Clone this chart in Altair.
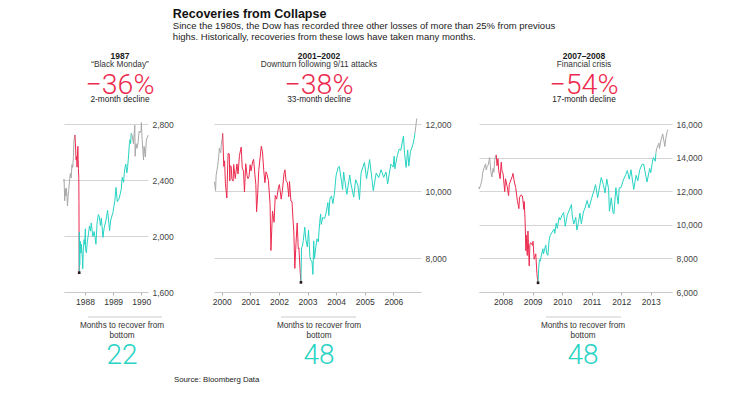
import altair as alt
import pandas as pd

FONT = "Liberation Sans"
BIG_FONT = "Roboto"
GRAY = "#a8a8a8"
RED = "#ec2a4e"
CYAN = "#27d3c3"
GRID = "#d4d4d4"
TEXT = "#1a1a1a"

# ---------------- text content ----------------
title_text = "Recoveries from Collapse"
subtitle_lines = [
    "Since the 1980s, the Dow has recorded three other losses of more than 25% from previous",
    "highs. Historically, recoveries from these lows have taken many months.",
]
header_years = ["1987", "2001\u20132002", "2007\u20132008"]
header_events = ["\u201cBlack Monday\u201d", "Downturn following 9/11 attacks", "Financial crisis"]
decline_pcts = ["\u221236%", "\u221238%", "\u221254%"]
decline_labels = ["2-month decline", "33-month decline", "17-month decline"]
recover_label = ["Months to recover from", "bottom"]
recover_months = ["22", "48", "48"]
source_text = "Source: Bloomberg Data"

# ---------------- panel 1: 1987 ----------------
p1_dates = [
    "1987-04-03", "1987-04-06", "1987-04-14", "1987-04-22", "1987-04-30", "1987-05-05",
    "1987-05-15", "1987-05-20", "1987-05-29", "1987-06-05", "1987-06-15", "1987-06-26",
    "1987-07-07", "1987-07-17", "1987-07-27", "1987-08-05", "1987-08-12", "1987-08-17",
    "1987-08-25", "1987-08-31", "1987-09-08", "1987-09-15", "1987-09-21", "1987-09-28",
    "1987-10-02", "1987-10-06", "1987-10-09", "1987-10-14", "1987-10-16", "1987-10-19",
    "1987-10-20", "1987-10-21", "1987-10-26", "1987-10-29", "1987-11-02", "1987-11-10",
    "1987-11-16", "1987-11-30", "1987-12-04", "1987-12-11", "1987-12-21", "1987-12-31",
    "1988-01-07", "1988-01-08", "1988-01-20", "1988-02-01", "1988-02-16", "1988-02-29",
    "1988-03-15", "1988-03-23", "1988-04-13", "1988-04-20", "1988-04-29", "1988-05-10",
    "1988-05-23", "1988-06-08", "1988-06-24", "1988-07-05", "1988-07-20", "1988-08-01",
    "1988-08-22", "1988-09-06", "1988-09-30", "1988-10-21", "1988-11-16", "1988-12-01",
    "1988-12-30", "1989-01-24", "1989-02-07", "1989-02-24", "1989-03-17", "1989-03-31",
    "1989-04-17", "1989-04-28", "1989-05-16", "1989-05-31", "1989-06-15", "1989-06-27",
    "1989-07-07", "1989-07-18", "1989-07-31", "1989-08-09", "1989-08-15", "1989-08-24",
    "1989-09-05", "1989-09-21", "1989-10-09", "1989-10-13", "1989-10-24", "1989-11-06",
    "1989-11-20", "1989-12-04", "1989-12-15", "1989-12-29", "1990-01-02", "1990-01-12",
    "1990-01-30", "1990-02-06", "1990-02-23", "1990-03-06", "1990-03-15", "1990-03-23",
    "1990-03-28",
]
p1_values = [
    2390, 2405, 2252, 2337, 2286, 2342,
    2272, 2215, 2291, 2325, 2392, 2446,
    2415, 2510, 2490, 2566, 2680, 2700,
    2722, 2663, 2545, 2568, 2492, 2601,
    2641, 2548, 2482, 2412, 2246, 1738,
    1841, 2027, 1793, 1938, 1963, 1878,
    1940, 1834, 1766, 1902, 1974, 1939,
    2051, 1911, 1880, 1958, 2015, 2072,
    2035, 2093, 1996, 2005, 2032, 1995,
    1941, 2102, 2153, 2140, 2075, 2128,
    1990, 2057, 2112, 2183, 2038, 2114,
    2169, 2256, 2347, 2245, 2263, 2294,
    2337, 2419, 2384, 2481, 2513, 2450,
    2487, 2557, 2661, 2689, 2660, 2734,
    2717, 2660, 2791, 2569, 2660, 2626,
    2665, 2748, 2739, 2753, 2810, 2689,
    2543, 2640, 2564, 2675, 2700, 2705,
    2720,
]
p1_events = ["1987-08-25", "1987-10-19", "1989-08-24"]  # peak, bottom, recovered

# ---------------- panel 2: 2000-2002 ----------------
p2_dates = [
    "1999-09-24", "1999-10-01", "1999-10-15", "1999-10-22", "1999-11-03", "1999-11-12",
    "1999-11-23", "1999-12-03", "1999-12-10", "1999-12-20", "1999-12-31", "2000-01-07",
    "2000-01-14", "2000-01-28", "2000-02-07", "2000-02-18", "2000-03-07", "2000-03-16",
    "2000-03-23", "2000-04-07", "2000-04-14", "2000-04-18", "2000-05-02", "2000-05-10",
    "2000-05-26", "2000-06-02", "2000-06-22", "2000-07-14", "2000-07-28", "2000-08-15",
    "2000-09-06", "2000-09-20", "2000-10-06", "2000-10-18", "2000-11-03", "2000-11-20",
    "2000-12-01", "2000-12-15", "2000-12-29", "2001-01-10", "2001-01-31", "2001-02-12",
    "2001-02-28", "2001-03-12", "2001-03-22", "2001-04-05", "2001-04-18", "2001-05-01",
    "2001-05-21", "2001-06-05", "2001-06-22", "2001-07-06", "2001-07-20", "2001-08-01",
    "2001-08-20", "2001-09-10", "2001-09-21", "2001-10-01", "2001-10-11", "2001-10-31",
    "2001-11-15", "2001-12-03", "2001-12-27", "2002-01-07", "2002-01-30", "2002-02-13",
    "2002-03-07", "2002-03-19", "2002-04-02", "2002-04-19", "2002-05-07", "2002-05-16",
    "2002-06-03", "2002-06-17", "2002-07-01", "2002-07-10", "2002-07-23", "2002-08-07",
    "2002-08-22", "2002-09-05", "2002-09-13", "2002-09-30", "2002-10-09", "2002-10-17",
    "2002-10-29", "2002-11-08", "2002-11-27", "2002-12-10", "2002-12-30", "2003-01-14",
    "2003-01-31", "2003-02-10", "2003-02-28", "2003-03-11", "2003-03-21", "2003-03-31",
    "2003-04-17", "2003-05-02", "2003-05-19", "2003-06-04", "2003-06-17", "2003-06-25",
    "2003-07-14", "2003-07-30", "2003-08-08", "2003-08-28", "2003-09-18", "2003-09-30",
    "2003-10-13", "2003-11-03", "2003-11-21", "2003-12-10", "2003-12-31", "2004-01-26",
    "2004-02-11", "2004-03-10", "2004-03-24", "2004-04-06", "2004-05-17", "2004-06-23",
    "2004-07-09", "2004-08-13", "2004-09-07", "2004-10-05", "2004-10-25", "2004-11-15",
    "2004-12-28", "2005-01-24", "2005-03-04", "2005-04-20", "2005-05-27", "2005-06-28",
    "2005-07-29", "2005-08-30", "2005-09-30", "2005-10-20", "2005-11-30", "2005-12-30",
    "2006-01-11", "2006-01-20", "2006-02-21", "2006-03-16", "2006-04-06", "2006-05-10",
    "2006-05-24", "2006-06-13", "2006-07-03", "2006-07-17", "2006-08-07", "2006-09-08",
    "2006-09-25", "2006-10-03", "2006-10-11", "2006-10-19", "2006-10-26",
]
p2_values = [
    10279, 10273, 10019, 10470, 10640, 10770,
    11008, 11286, 11225, 11145, 11497, 11522,
    11723, 10739, 10905, 10219, 9796, 10630,
    11119, 11111, 10306, 10767, 10731, 10367,
    10300, 10794, 10376, 10812, 10512, 11067,
    11310, 10687, 10596, 9975, 10817, 10462,
    10374, 10434, 10787, 10604, 10887, 10946,
    10495, 10208, 9389, 9918, 10615, 10898,
    11337, 11175, 10604, 10252, 10576, 10510,
    10320, 9606, 8236, 8837, 9410, 9075,
    9872, 9763, 10131, 10197, 9763, 9990,
    10525, 10635, 10313, 10257, 9836, 10289,
    9709, 9688, 9109, 8813, 7702, 8456,
    9053, 8284, 8312, 7592, 7286, 8322,
    8368, 8537, 8931, 8574, 8342, 8842,
    8053, 7960, 7891, 7524, 8521, 7992,
    8337, 8582, 8492, 9038, 9323, 9011,
    9218, 9200, 9191, 9374, 9660, 9275,
    9764, 9858, 9629, 9921, 10454, 10702,
    10737, 10296, 10048, 10570, 9906, 10479,
    10214, 9825, 10342, 10177, 9750, 10550,
    10854, 10368, 10941, 10012, 10542, 10405,
    10641, 10412, 10568, 10215, 10806, 10718,
    11043, 10667, 11069, 11254, 11216, 11642,
    11117, 10707, 11229, 10747, 11173, 11393,
    11575, 11727, 11852, 12011, 12163,
]
p2_events = ["2000-01-14", "2002-10-09", "2006-10-03"]

# ---------------- panel 3: 2007-2008 ----------------
p3_dates = [
    "2007-03-08", "2007-03-14", "2007-03-30", "2007-04-13", "2007-04-25", "2007-05-09",
    "2007-05-31", "2007-06-07", "2007-06-20", "2007-07-03", "2007-07-19", "2007-08-03",
    "2007-08-16", "2007-08-31", "2007-09-10", "2007-09-19", "2007-10-01", "2007-10-09",
    "2007-10-19", "2007-10-31", "2007-11-08", "2007-11-26", "2007-12-10", "2007-12-19",
    "2008-01-02", "2008-01-22", "2008-02-01", "2008-02-21", "2008-03-10", "2008-03-18",
    "2008-04-02", "2008-04-25", "2008-05-02", "2008-05-23", "2008-06-06", "2008-06-26",
    "2008-07-15", "2008-07-23", "2008-08-11", "2008-08-28", "2008-09-15", "2008-09-19",
    "2008-09-29", "2008-10-10", "2008-10-13", "2008-10-27", "2008-11-04", "2008-11-20",
    "2008-11-28", "2008-12-08", "2008-12-31", "2009-01-06", "2009-01-20", "2009-02-09",
    "2009-02-23", "2009-03-02", "2009-03-09", "2009-03-17", "2009-03-26", "2009-04-08",
    "2009-04-17", "2009-05-08", "2009-05-15", "2009-06-12", "2009-06-23", "2009-07-08",
    "2009-07-24", "2009-08-07", "2009-08-28", "2009-09-23", "2009-10-02", "2009-10-19",
    "2009-11-02", "2009-11-24", "2009-12-08", "2009-12-28", "2010-01-19", "2010-02-08",
    "2010-03-05", "2010-04-26", "2010-05-06", "2010-05-25", "2010-06-18", "2010-07-02",
    "2010-07-21", "2010-08-09", "2010-08-26", "2010-09-21", "2010-10-15", "2010-11-05",
    "2010-11-30", "2010-12-31", "2011-01-26", "2011-02-18", "2011-03-16", "2011-04-29",
    "2011-05-25", "2011-06-15", "2011-07-07", "2011-07-29", "2011-08-08", "2011-08-31",
    "2011-09-22", "2011-10-03", "2011-10-27", "2011-11-25", "2011-12-07", "2011-12-30",
    "2012-01-27", "2012-02-28", "2012-03-16", "2012-04-10", "2012-05-01", "2012-06-04",
    "2012-07-03", "2012-07-25", "2012-08-16", "2012-09-14", "2012-10-05", "2012-11-15",
    "2012-12-18", "2012-12-31", "2013-01-18", "2013-02-01", "2013-02-25", "2013-03-05",
    "2013-03-14", "2013-04-11", "2013-04-18", "2013-05-07", "2013-05-28", "2013-06-24",
    "2013-07-05", "2013-07-22", "2013-08-02",
]
p3_values = [
    12260, 12133, 12354, 12612, 13089, 13362,
    13627, 13266, 13489, 13577, 14000, 13181,
    12845, 13357, 13127, 13815, 14087, 14165,
    13522, 13930, 13266, 12743, 13727, 13207,
    13044, 11971, 12743, 12284, 11740, 12392,
    12605, 12891, 13058, 12480, 12209, 11453,
    10962, 11632, 11783, 11715, 10917, 11388,
    10365, 8451, 9387, 8176, 9625, 7552,
    8829, 8934, 8776, 9015, 7949, 8270,
    7114, 6763, 6547, 7395, 7925, 7837,
    8131, 8575, 8268, 8799, 8323, 8179,
    9093, 9370, 9544, 9749, 9487, 10092,
    9789, 10433, 10286, 10547, 10725, 9908,
    10567, 11205, 10520, 10043, 10450, 9686,
    10120, 10698, 10060, 10761, 11063, 11444,
    11006, 11578, 11985, 12391, 11613, 12811,
    12394, 11898, 12719, 12143, 10810, 11614,
    10733, 10655, 12209, 11231, 12196, 12218,
    12660, 13005, 13233, 12715, 13279, 12101,
    12943, 12617, 13250, 13594, 13610, 12543,
    13351, 13104, 13650, 14010, 13784, 14254,
    14539, 14865, 14537, 15056, 15409, 14660,
    15135, 15545, 15658,
]
p3_events = ["2007-10-09", "2009-03-09", "2013-03-05"]


def segments(dates, values, events):
    peak, bottom, rec = events
    rows = []
    for d, v in zip(dates, values):
        if d <= peak:
            rows.append((d, v, "pre"))
        if peak <= d <= bottom:
            rows.append((d, v, "decline"))
        if bottom <= d <= rec:
            rows.append((d, v, "recovery"))
        if d >= rec:
            rows.append((d, v, "post"))
    return pd.DataFrame(rows, columns=["date", "value", "seg"])


def label(text, x, y, size, weight="normal", color=TEXT, font=FONT, align="center"):
    return alt.Chart(pd.DataFrame({"t": [text]})).mark_text(
        align=align, baseline="middle", fontSize=size, fontWeight=weight,
        color=color, font=font,
    ).encode(text="t:N", x=alt.value(x), y=alt.value(y))


def panel(i, dates, values, events, xdom, years, ydom, yticks, width, height, hx, fx, rule):
    df = segments(dates, values, events)
    bottom_df = pd.DataFrame({"date": [events[1]],
                              "value": [values[dates.index(events[1])]]})
    x = alt.X("date:T", title=None,
              scale=alt.Scale(domain=[alt.DateTime(year=a, month=b, date=c) for a, b, c in xdom]),
              axis=alt.Axis(values=[alt.DateTime(year=y, month=1, date=1) for y in years],
                            format="%Y", grid=False, domainColor="#c9c9c9", tickColor="#b0b0b0",
                            tickSize=3, labelPadding=2, labelFontSize=8.5, labelColor="#333",
                            labelFont=FONT, labelFlush=False, labelOverlap=False))
    y = alt.Y("value:Q", title=None,
              scale=alt.Scale(domain=ydom, nice=False, zero=False),
              axis=alt.Axis(orient="right", values=yticks, format=",.0f", grid=True,
                            gridColor=GRID, gridWidth=1, domain=False, ticks=False,
                            labelPadding=4, labelFontSize=8.5, labelColor="#444",
                            labelFont=FONT, minExtent=38, labelOverlap=False))
    line = alt.Chart(df).mark_line(strokeWidth=1).encode(
        x=x, y=y,
        color=alt.Color("seg:N", legend=None,
                        scale=alt.Scale(domain=["pre", "decline", "recovery", "post"],
                                        range=[GRAY, RED, CYAN, GRAY])),
    )
    dot = alt.Chart(bottom_df).mark_square(size=7, color="#2a1a1a", opacity=1).encode(
        x=x, y=y)
    texts = [
        label(header_years[i], hx, -68, 8.5, weight="bold"),
        label(header_events[i], hx, -59, 8.3, color="#333"),
        label(decline_pcts[i], hx, -39, 28.5, color=RED, font=BIG_FONT, weight=300),
        label(decline_labels[i], hx, -24, 8.3, color="#222"),
        label(recover_label[0], fx, height + 34, 8.2, color="#333"),
        label(recover_label[1], fx, height + 44, 8.2, color="#333"),
        label(recover_months[i], fx, height + 64, 28, color=CYAN, font=BIG_FONT, weight=300),
    ]
    rule_mark = alt.Chart(pd.DataFrame({"r": [0]})).mark_rule(
        color="#cccccc", strokeWidth=1).encode(
        x=alt.value(rule[0]), x2=alt.value(rule[1]), y=alt.value(height + 25))
    return alt.layer(line, dot, rule_mark, *texts).properties(width=width, height=height)


H = 168
p1 = panel(0, p1_dates, p1_values, p1_events,
           [(1987, 4, 5), (1990, 3, 29)], [1988, 1989, 1990],
           [1600, 2800], [1600, 2000, 2400, 2800], 84, H, 56, 58, (24, 98))
p2 = panel(1, p2_dates, p2_values, p2_events,
           [(1999, 9, 25), (2006, 12, 20)], list(range(2000, 2007)),
           [7000, 12000], [8000, 10000, 12000], 207, H, 105, 105, (67, 142))
p3 = panel(2, p3_dates, p3_values, p3_events,
           [(2007, 3, 10), (2013, 9, 20)], list(range(2008, 2014)),
           [6000, 16000], [6000, 8000, 10000, 12000, 14000, 16000], 193, H, 105, 104, (67, 142))

row = alt.hconcat(alt.hconcat(p1, p2, spacing=25), p3, spacing=17)

source = alt.Chart(pd.DataFrame({"t": [source_text]})).mark_text(
    align="left", baseline="middle", fontSize=7.8, font=FONT, color="#222"
).encode(text="t:N", x=alt.value(110), y=alt.value(4)).properties(width=1, height=1)

chart = alt.vconcat(row, source, spacing=6).properties(
    title=alt.TitleParams(
        text=title_text, subtitle=subtitle_lines, anchor="start", dx=111,
        font=FONT, fontSize=12.5, fontWeight="bold", color="#111",
        subtitleFont=FONT, subtitleFontSize=9.5, subtitleColor="#222",
        subtitleLineHeight=11, subtitlePadding=0, offset=11,
    ),
    padding={"left": 53, "top": 0, "right": 5, "bottom": 0},
).configure_view(stroke=None)

chart.save("out.html", embed_options={"renderer": "svg", "actions": False})
